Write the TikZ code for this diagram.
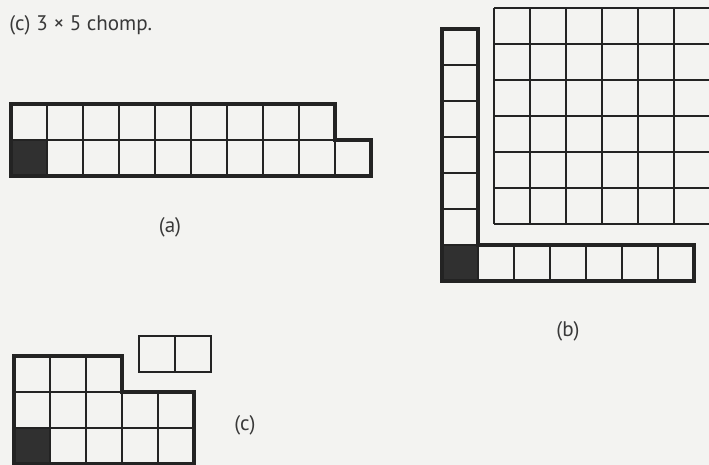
\documentclass[tikz,border=0pt]{standalone}
\usepackage{fontspec}
\setmainfont{PT Sans}
\usepackage{tikz}
\usetikzlibrary{positioning}
\definecolor{paper}{RGB}{243,243,241}
\definecolor{ink}{RGB}{35,35,35}
\definecolor{taken}{RGB}{48,48,48}

\begin{document}
\begin{tikzpicture}[
  x=0.02cm, y=-0.02cm,
  cell/.style={draw=ink, line width=0.85pt},
  board/.style={draw=ink, line width=1.8pt, line join=miter},
  poison/.style={fill=taken},
  lbl/.style={text=ink!90, font=\fontsize{12}{14}\selectfont, inner sep=0pt}
]
\fill[paper] (0,0) rectangle (709,465);
\useasboundingbox (0,0) rectangle (709,465);
\begin{scope}
\clip (0,0) rectangle (709,465);

\fill[poison] (11,140) rectangle (47,176);
\foreach \i in {1,...,8} \draw[cell] (11+36*\i,104) -- (11+36*\i,176);
\draw[cell] (335,140) -- (335,176);
\draw[cell] (11,140) -- (335,140);
\draw[board] (11,104) -- (335,104) -- (335,140) -- (371,140) -- (371,176) -- (11,176) -- cycle;

\fill[poison] (442,245) rectangle (478,281);
\foreach \j in {1,...,5} \draw[cell] (442,29+36*\j) -- (478,29+36*\j);
\foreach \i in {0,...,5} \draw[cell] (478+36*\i,245) -- (478+36*\i,281);
\draw[cell] (442,245) -- (478,245);
\draw[board] (442,29) -- (478,29) -- (478,245) -- (694,245) -- (694,281) -- (442,281) -- cycle;

\foreach \i in {0,...,6} \draw[cell] (494+36*\i,8) -- (494+36*\i,224);
\foreach \j in {0,...,6} \draw[cell] (494,8+36*\j) -- (710,8+36*\j);

\fill[poison] (14,428) rectangle (50,464);
\foreach \i in {50,86} \draw[cell] (\i,356) -- (\i,464);
\foreach \i in {122,158} \draw[cell] (\i,392) -- (\i,464);
\draw[cell] (14,392) -- (122,392);
\draw[cell] (14,428) -- (194,428);
\draw[board] (14,356) -- (122,356) -- (122,392) -- (194,392) -- (194,464) -- (14,464) -- cycle;

\draw[cell, line width=1pt] (139,336) rectangle (211,372);
\draw[cell] (175,336) -- (175,372);
\end{scope}

\node[lbl, anchor=west] (title) at (9,25) {(c)\;3 × 5 chomp.};
\node[lbl] (lbla) at (170,227) {(a)};
\node[lbl] (lblb) at (568,331) {(b)};
\node[lbl] (lblc) at (245,425) {(c)};
\end{tikzpicture}
\end{document}
